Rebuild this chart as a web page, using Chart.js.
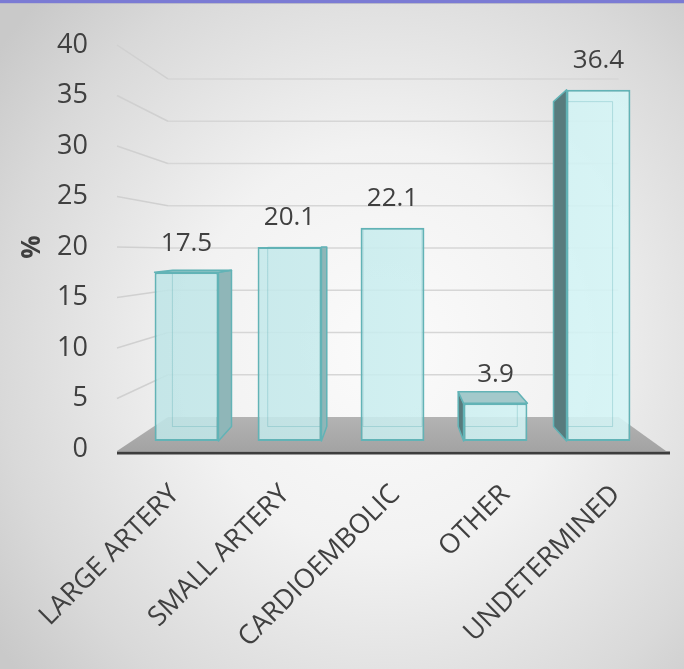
<!DOCTYPE html>
<html>
<head>
<meta charset="utf-8">
<script src="https://cdn.jsdelivr.net/npm/chart.js@4/dist/chart.umd.min.js"></script>
<style>
  html, body {
    margin: 0;
    padding: 0;
    overflow: hidden;
  }
  body {
    width: 684px;
    height: 669px;
    background: radial-gradient(ellipse 70% 75% at 56% 52%, #fbfbfb 0%, #f2f2f2 40%, #d9d9d9 80%, #c9c9c9 100%);
    position: relative;
  }
  #band {
    position: absolute;
    left: 0;
    top: 0;
    width: 684px;
    height: 3px;
    background: #7b7bd4;
    border-bottom: 1px solid #b9b9c9;
  }
  #stroke {
    position: absolute;
    left: 0;
    top: 0;
  }
</style>
</head>
<body>
<div id="band"></div>
<canvas id="stroke" width="684" height="669"></canvas>
<script>
const categories = ["LARGE ARTERY", "SMALL ARTERY", "CARDIOEMBOLIC", "OTHER", "UNDETERMINED"];
const percentages = [17.5, 20.1, 22.1, 3.9, 36.4];
const axisMax = 40;
const axisStep = 5;

// fake 3d: eye sits at the 20 line, things further back shrink toward it
const EYE = 20;
const BAR_K = 0.925;
const WALL_K = 0.815;
const LABEL_K = 1.07;
const textColor = "#404040";

const depth3d = {
  id: "depth3d",
  beforeDatasetsDraw(chart) {
    const { ctx, chartArea: a, scales } = chart;
    const yl = scales.y;
    const yw = scales.yBack;
    const vx = (a.left + a.right) / 2;
    const frontL = a.left - 18;
    const frontR = a.right + 20;
    const backL = vx - WALL_K * (vx - frontL);
    const backR = vx + WALL_K * (frontR - vx);

    ctx.save();
    // grid on the side and back walls
    ctx.lineWidth = 1.5;
    for (let v = axisStep; v <= axisMax; v += axisStep) {
      const y1 = yl.getPixelForValue(v);
      const y2 = yw.getPixelForValue(v);
      ctx.strokeStyle = "#d0d0d0";
      ctx.beginPath();
      ctx.moveTo(frontL, y1);
      ctx.lineTo(backL, y2);
      ctx.stroke();
      ctx.strokeStyle = "#d6d6d6";
      ctx.beginPath();
      ctx.moveTo(backL, y2);
      ctx.lineTo(backR, y2);
      ctx.stroke();
    }

    // floor
    const fy = yl.getPixelForValue(0) + 2;
    const by = yw.getPixelForValue(0);
    const g = ctx.createLinearGradient(0, by, 0, fy);
    g.addColorStop(0, "#b3b3b3");
    g.addColorStop(1, "#a3a3a3");
    ctx.fillStyle = g;
    ctx.beginPath();
    ctx.moveTo(backL, by);
    ctx.lineTo(backR, by);
    ctx.lineTo(frontR - 4, fy);
    ctx.lineTo(frontL, fy);
    ctx.closePath();
    ctx.fill();

    ctx.strokeStyle = "#3d3d3d";
    ctx.lineWidth = 3;
    ctx.beginPath();
    ctx.moveTo(frontL, fy + 2);
    ctx.lineTo(frontR, fy + 2);
    ctx.stroke();
    ctx.restore();
  },
  afterDatasetsDraw(chart) {
    const { ctx, chartArea: a, scales } = chart;
    const yb = scales.yBar;
    const vx = (a.left + a.right) / 2;
    const vy = yb.getPixelForValue(EYE);
    const back = (x, y) => [vx + BAR_K * (x - vx), vy + BAR_K * (y - vy)];
    const meta = chart.getDatasetMeta(0);

    ctx.save();
    ctx.lineJoin = "round";
    meta.data.forEach((bar, i) => {
      const { x, y, base, width } = bar.getProps(["x", "y", "base", "width"], true);
      const x1 = x - width / 2;
      const x2 = x + width / 2;
      const [bx1, by1] = back(x1, y);
      const [bx2, bb] = back(x2, base);

      // back edges seen through the glass
      ctx.strokeStyle = "rgba(95,175,180,0.35)";
      ctx.lineWidth = 1;
      ctx.strokeRect(bx1, by1, bx2 - bx1, bb - by1);

      ctx.strokeStyle = "#62b3b6";
      ctx.lineWidth = 1.5;
      // side face
      if (Math.abs(x - vx) > 4) {
        const sx = x < vx ? x2 : x1;
        const [bsx, bty] = back(sx, y);
        const [, bby] = back(sx, base);
        ctx.fillStyle = x < vx ? "#8fb6b8" : "#587b7d";
        ctx.beginPath();
        ctx.moveTo(sx, y);
        ctx.lineTo(bsx, bty);
        ctx.lineTo(bsx, bby);
        ctx.lineTo(sx, base);
        ctx.closePath();
        ctx.fill();
        ctx.stroke();
      }
      // top face, only when below eye level
      if (y > vy + 1) {
        const [tx1, ty] = back(x1, y);
        const [tx2] = back(x2, y);
        ctx.fillStyle = "#a3c9cb";
        ctx.beginPath();
        ctx.moveTo(x1, y);
        ctx.lineTo(x2, y);
        ctx.lineTo(tx2, ty);
        ctx.lineTo(tx1, ty);
        ctx.closePath();
        ctx.fill();
        ctx.stroke();
      }

      // value label
      ctx.fillStyle = textColor;
      ctx.font = "26px 'Open Sans'";
      ctx.textAlign = "center";
      ctx.textBaseline = "middle";
      ctx.fillText(percentages[i].toFixed(1), x, y - 29);
    });
    ctx.restore();
  },
  afterDraw(chart) {
    // category names sit on the front edge of the floor, which is wider than the bar row
    const { ctx, chartArea: a, scales } = chart;
    const xs = scales.x;
    const vx = (a.left + a.right) / 2;
    ctx.save();
    ctx.fillStyle = textColor;
    ctx.font = "27px 'Open Sans'";
    ctx.textAlign = "right";
    ctx.textBaseline = "middle";
    categories.forEach((name, i) => {
      const px = vx + LABEL_K * (xs.getPixelForValue(i) - vx) + 3;
      const py = a.bottom + 41;
      ctx.save();
      ctx.translate(px, py);
      ctx.rotate(-Math.PI / 4);
      ctx.fillText(name, 0, 0);
      ctx.restore();
    });
    ctx.restore();
  },
};

const canvas = document.getElementById("stroke");

new Chart(canvas, {
  type: "bar",
  data: {
    labels: categories,
    datasets: [
      {
        data: percentages,
        yAxisID: "yBar",
        backgroundColor: (c) => {
          const a = c.chart.chartArea;
          if (!a) return "#c8ecee";
          const g = c.chart.ctx.createLinearGradient(a.left, 0, a.right, 0);
          g.addColorStop(0, "rgba(190,228,230,0.88)");
          g.addColorStop(1, "rgba(214,246,247,0.88)");
          return g;
        },
        borderColor: "#62b3b6",
        borderWidth: 2,
        borderSkipped: false,
        barPercentage: 0.62,
        categoryPercentage: 1,
      },
    ],
  },
  options: {
    responsive: false,
    animation: false,
    layout: { padding: { top: 45, right: 34, left: 0, bottom: 0 } },
    plugins: {
      legend: { display: false },
      tooltip: { enabled: false },
    },
    scales: {
      x: {
        grid: { display: false, drawTicks: false },
        border: { display: false },
        ticks: { display: false },
        afterFit: (s) => { s.height = 220; },
      },
      y: {
        position: "left",
        min: 0,
        max: axisMax,
        // long invisible tick marks push the labels out to the left
        grid: { display: false, drawTicks: true, tickLength: 44 },
        border: { display: false },
        ticks: {
          stepSize: axisStep,
          color: textColor,
          font: { family: "'Open Sans'", size: 27 },
          padding: 3,
        },
        title: {
          display: true,
          text: "%",
          color: textColor,
          font: { family: "'Open Sans'", size: 26, weight: "bold" },
          padding: { top: 17, bottom: 0 },
        },
        afterFit: (s) => { s.width = 135; },
      },
      // hidden scales for the front of the bars and the back wall
      yBar: { display: false, min: -0.83, max: 41.04 },
      yBack: { display: false, min: -3.79, max: 44.02 },
    },
  },
  plugins: [depth3d],
});
</script>
</body>
</html>
